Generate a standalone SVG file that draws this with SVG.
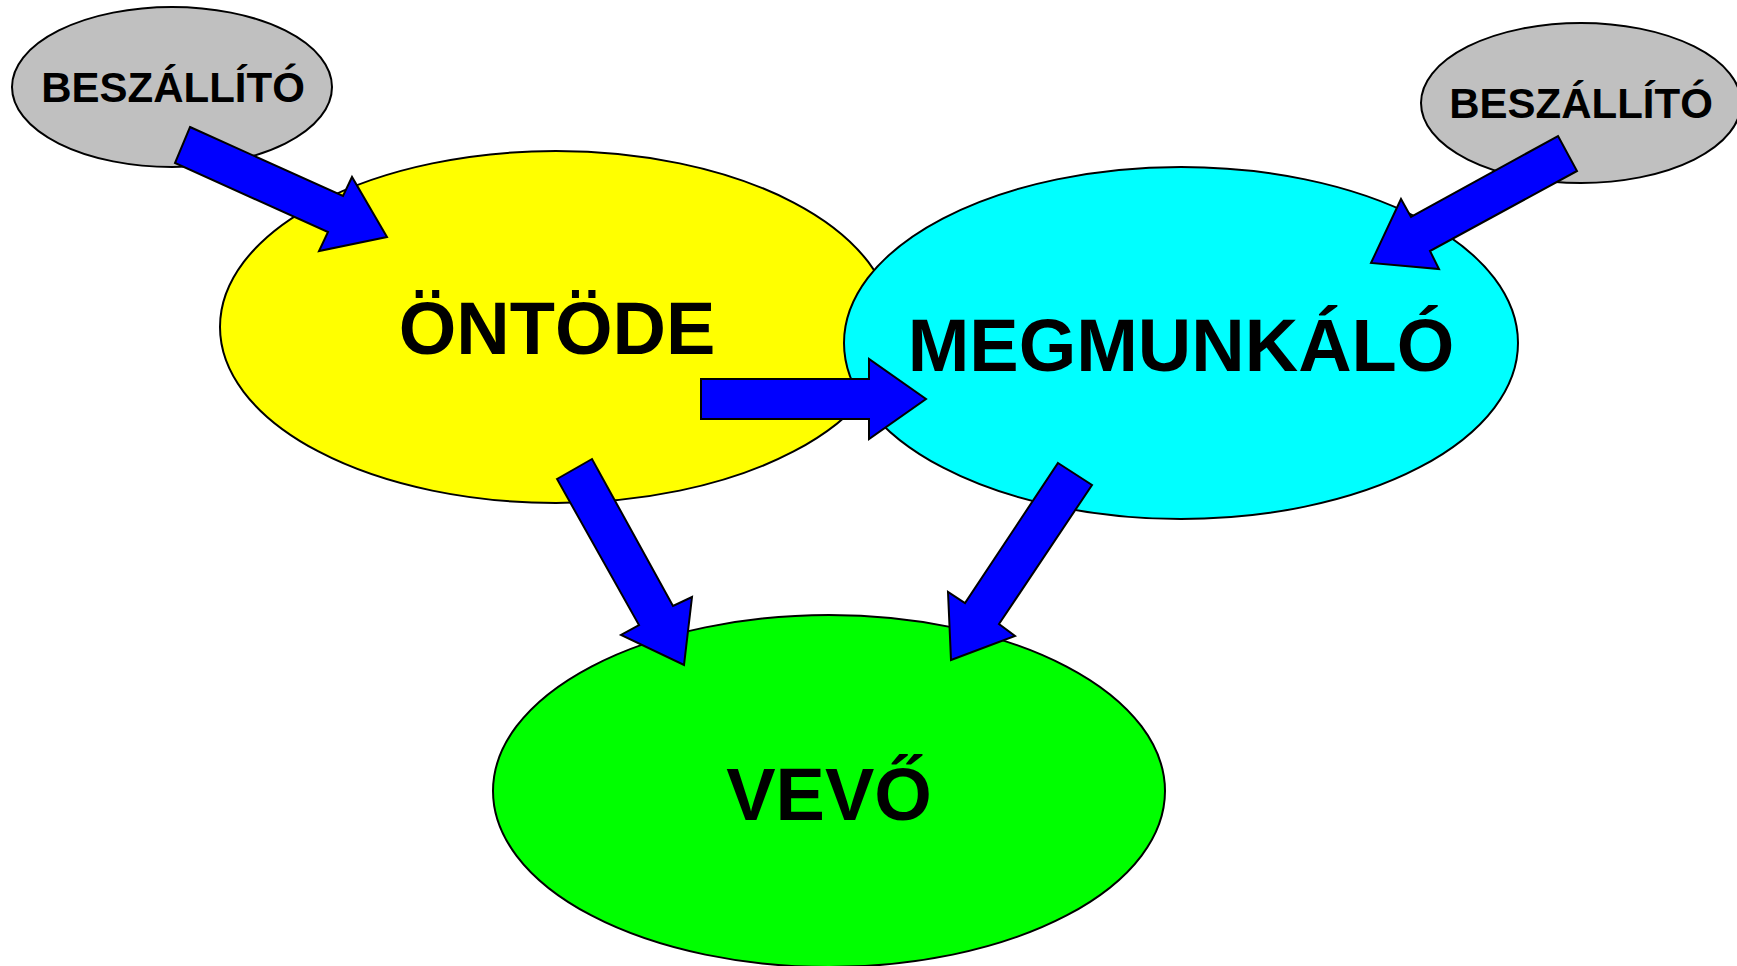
<svg xmlns="http://www.w3.org/2000/svg" width="1737" height="966" viewBox="0 0 1737 966">
  <style>
    .node { stroke: #000; stroke-width: 2; }
    .label { font-family: "Liberation Sans", Arial, sans-serif; font-weight: bold; fill: #000; text-anchor: middle; }
    .small { font-size: 42px; }
    .big { font-size: 74px; }
    .arrow { fill: #0000FF; stroke: #000; stroke-width: 2; stroke-linejoin: miter; }
  </style>
  <rect width="1737" height="966" fill="#FFFFFF"/>

  <g id="supplier-left">
    <ellipse class="node" cx="172" cy="87" rx="160" ry="80" fill="#C0C0C0"/>
    <text class="label small" x="173" y="102">BESZÁLLÍTÓ</text>
  </g>

  <g id="supplier-right">
    <ellipse class="node" cx="1581" cy="103" rx="160" ry="80" fill="#C0C0C0"/>
    <text class="label small" x="1581" y="118">BESZÁLLÍTÓ</text>
  </g>

  <g id="foundry">
    <ellipse class="node" cx="556" cy="327" rx="336" ry="176" fill="#FFFF00"/>
    <text class="label big" x="557" y="354">ÖNTÖDE</text>
  </g>

  <g id="machining">
    <ellipse class="node" cx="1181" cy="343" rx="337" ry="176" fill="#00FFFF"/>
    <text class="label big" x="1181" y="371">MEGMUNKÁLÓ</text>
  </g>

  <g id="customer">
    <ellipse class="node" cx="829" cy="791" rx="336" ry="176" fill="#00FF00"/>
    <text class="label big" x="829" y="820">VEVŐ</text>
  </g>

  <g id="connectors">
    <polygon class="arrow" points="190,127 343,196 352,177 387,237 319,251 328,232 175,163"/>
    <polygon class="arrow" points="1558,136 1577,171 1430,251 1439,269 1371,263 1401,199 1411,217"/>
    <polygon class="arrow" points="701,379 869,379 869,359 926,399 869,439 869,419 701,419"/>
    <polygon class="arrow" points="557,479 592,459 673,606 692,597 684,665 621,635 639,625"/>
    <polygon class="arrow" points="1058,463 1092,485 999,624 1015,636 951,660 948,592 965,603"/>
  </g>
</svg>
